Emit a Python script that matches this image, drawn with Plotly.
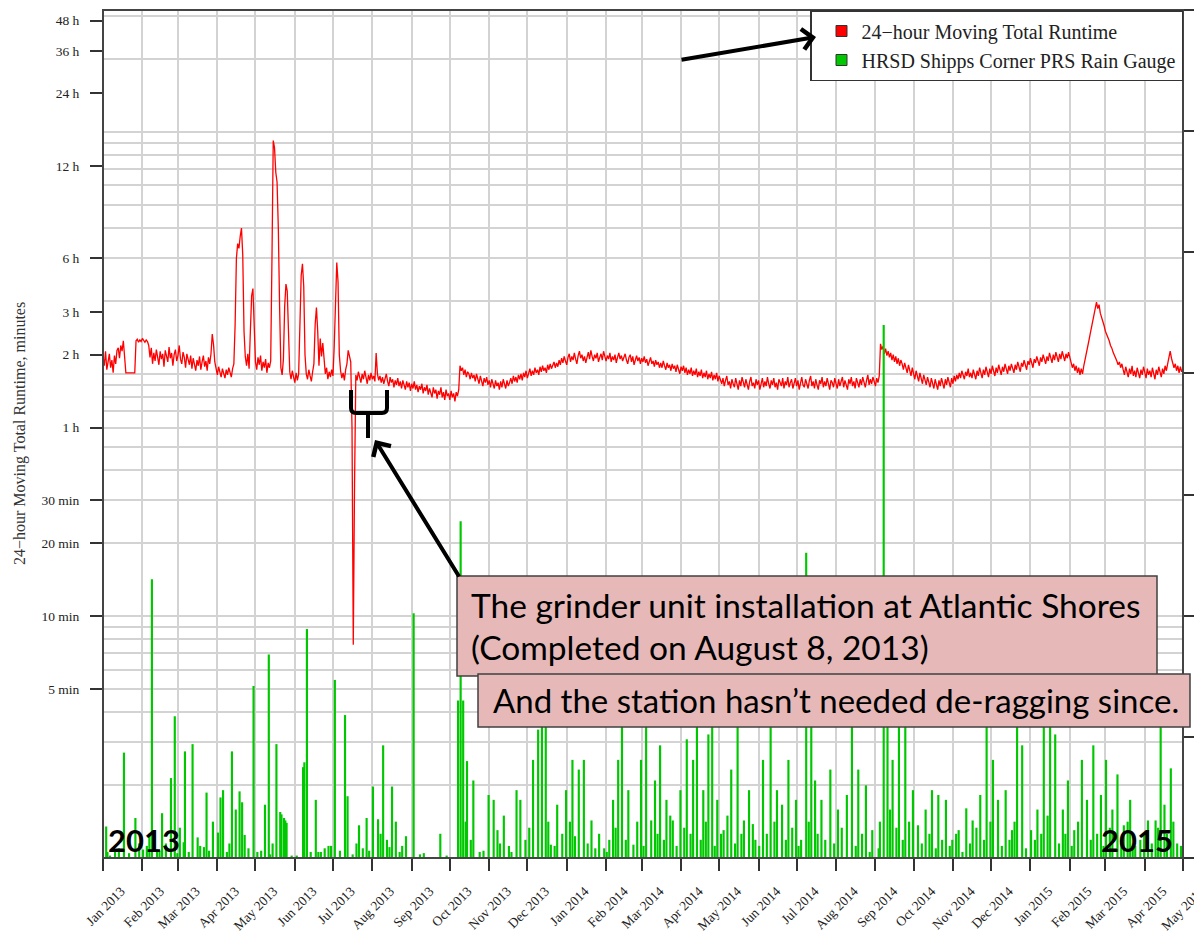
import pandas as pd
import plotly.graph_objects as go

# ---------------- data ----------------
START = "2013-01-01"

# 24-hour moving total runtime (minutes), one value per day.
# part A: days 0..18, part B: days 25..850 (no data between)
RUN_A_START = 0
RUN_B_START = 25
runtime_min_a = [118, 108, 124, 104, 112, 121, 106, 114, 101, 119, 110, 125, 128, 116, 131, 124, 137, 112, 101]
runtime_min_b = [
    # 25-36
    101, 137, 139, 135, 138, 136, 140, 137, 135, 138, 136, 131,
    # 37-85
    117, 128, 110, 122, 113, 126, 118, 109, 124, 115, 121, 107, 125, 119, 112, 129, 116, 122, 108, 120,
    126, 113, 119, 131, 115, 110, 123, 117, 106, 121, 114, 109, 119, 105, 116, 110, 103, 114, 108, 118,
    104, 112, 119, 107, 113, 103, 117, 110, 121,
    # 86-88
    146, 132, 112,
    # 89-103
    104, 99, 107, 101, 97, 105, 100, 96, 104, 99, 106, 101, 97, 105, 110,
    # 104-111 (April spike)
    160, 300, 345, 330, 370, 400, 310, 150,
    # 112-132
    118, 108, 121, 105, 150, 210, 225, 150, 112, 104, 117, 109, 119, 103, 112, 106, 115, 101, 111, 106, 113,
    # 133-139 (May spike)
    300, 920, 860, 680, 620, 400, 190,
    # 140-154
    106, 99, 115, 190, 235, 220, 150, 102, 95, 103, 97, 92, 101, 94, 100,
    # 155-158
    170, 255, 285, 230,
    # 159-166
    120, 100, 95, 104, 98, 93, 102, 110,
    # 167-169
    160, 188, 150,
    # 170-181
    108, 140, 118, 134, 112, 100, 106, 95, 102, 97, 104, 98,
    # 182-185
    130, 210, 288, 240,
    # 186-195
    120, 103, 96, 101, 94, 104, 110, 125, 118, 112,
    # 196-198 (July dip)
    60, 7.6, 35,
    # 199-280
    99, 94, 102, 97, 92, 100, 95, 103, 96, 91, 99, 94, 101, 95, 98, 93, 122, 100, 94, 98,
    92, 97, 91, 96, 100, 93, 89, 97, 92, 95, 88, 94, 90, 96, 89, 93, 87, 94, 90, 86,
    93, 88, 92, 85, 91, 87, 93, 86, 90, 84, 89, 86, 91, 83, 88, 85, 90, 82, 87, 84,
    80, 88, 83, 86, 79, 85, 82, 88, 80, 84, 78, 86, 81, 83, 78, 85, 80, 83, 77, 84,
    81, 86,
    # 281-320
    108, 103, 106, 99, 104, 97, 102, 100, 95, 101, 96, 99, 93, 100, 95, 91, 98, 94, 89, 96,
    92, 97, 90, 94, 88, 95, 91, 87, 94, 89, 92, 86, 93, 88, 95, 90, 87, 94, 89, 92,
    # 321-360
    96, 91, 98, 93, 97, 92, 99, 95, 100, 94, 101, 97, 103, 96, 100, 105, 98, 103, 99, 106,
    101, 104, 99, 107, 102, 108, 103, 106, 101, 109, 104, 110, 105, 108, 112, 106, 111, 107, 114, 109,
    # 361-438
    116, 111, 118, 113, 109, 117, 121, 112, 118, 114, 122, 115, 110, 119, 124, 116, 120, 113, 118, 111,
    117, 123, 115, 125, 118, 113, 120, 116, 122, 112, 117, 121, 114, 124, 118, 113, 119, 115, 122, 112,
    118, 114, 120, 111, 117, 122, 115, 119, 113, 118, 121, 114, 110, 117, 120, 112, 118, 109, 115, 119,
    113, 117, 110, 116, 112, 118, 111, 115, 108, 114, 117, 110, 113, 107, 114, 109, 112, 106,
    # 439-486
    111, 106, 113, 108, 104, 111, 106, 109, 103, 110, 105, 108, 102, 109, 104, 100, 107, 103, 108, 101,
    106, 99, 104, 100, 106, 98, 103, 99, 105, 97, 102, 98, 104, 96, 101, 97, 103, 95, 100, 96,
    102, 94, 99, 95, 101, 93, 98, 94,
    # 487-611
    91, 96, 89, 94, 98, 90, 93, 87, 95, 91, 88, 96, 92, 86, 94, 89, 97, 91, 88, 95,
    90, 86, 93, 97, 89, 92, 87, 95, 90, 94, 86, 91, 96, 88, 93, 89, 97, 91, 87, 94,
    90, 96, 88, 92, 86, 95, 91, 89, 96, 87, 93, 90, 97, 88, 92, 95, 87, 91, 96, 89,
    94, 86, 92, 97, 90, 88, 95, 91, 87, 94, 98, 89, 93, 87, 95, 90, 86, 94, 91, 97,
    88, 93, 89, 96, 90, 86, 94, 92, 88, 96, 91, 87, 95, 89, 93, 97, 88, 94, 90, 86,
    95, 91, 97, 89, 93, 87, 96, 92, 88, 95, 90, 97, 92, 88, 94, 99, 90, 95, 91, 97,
    93, 89, 96, 92, 98,
    # 612-673 (Sep 2014 jump)
    133, 126, 130, 121, 127, 119, 124, 117, 122, 114, 120, 112, 118, 110, 116, 108, 114, 110, 104, 111,
    106, 101, 109, 103, 98, 106, 100, 95, 103, 97, 93, 101, 96, 91, 99, 94, 90, 97, 92, 88,
    96, 91, 87, 95, 90, 86, 94, 89, 96, 91, 87, 95, 90, 97, 92, 88, 96, 91, 98, 93,
    99, 95,
    # 674-713
    101, 96, 103, 99, 95, 102, 98, 105, 97, 101, 96, 104, 99, 95, 103, 98, 106, 100, 96, 104,
    99, 107, 101, 97, 105, 100, 108, 102, 98, 106, 101, 109, 103, 99, 107, 102, 110, 104, 100, 108,
    # 714-764
    103, 110, 105, 101, 109, 104, 112, 106, 102, 111, 107, 114, 108, 104, 113, 109, 116, 110, 106, 115,
    111, 118, 112, 108, 117, 112, 120, 114, 110, 118, 113, 122, 115, 111, 120, 114, 123, 116, 112, 121,
    115, 124, 117, 113, 121, 116, 123, 117, 112, 106, 110,
    # 765-774
    103, 108, 101, 106, 99, 105, 100, 108, 114, 120,
    # 775-801 (Feb 2015 bump)
    128, 137, 146, 156, 166, 178, 190, 198, 186, 193, 178, 172, 163, 158, 150, 146, 140, 137, 131, 128,
    123, 120, 116, 113, 109, 112, 106,
    # 802-850
    110, 104, 99, 107, 102, 97, 105, 100, 108, 98, 103, 97, 106, 101, 96, 104, 99, 107, 100, 96,
    105, 99, 103, 97, 106, 100, 95, 104, 99, 107, 101, 97, 105, 100, 108, 103, 110, 118, 124, 116,
    112, 106, 110, 103, 108, 101, 107, 102, 105,
]

# HRSD Shipps Corner PRS rain gauge (right axis): day offset, value
rain_day = [
    2, 5, 9, 16, 25, 28, 31, 38, 42, 46, 53, 56, 63, 64, 70, 74, 76, 81, 83, 90,
    92, 94, 101, 107, 109, 111, 118, 121, 127, 130, 131, 136, 139, 140, 142, 143, 144, 152, 157, 158,
    160, 167, 169, 171, 177, 179, 182, 190, 192, 196, 201, 204, 207, 212, 216, 220, 223, 227, 230, 235,
    244, 252, 265, 279, 281, 283, 286, 291, 296, 303, 307, 310, 315, 319, 325, 328, 332, 338, 342, 345,
    348, 352, 357, 364, 369, 374, 378, 384, 390, 394, 398, 401, 405, 408, 413, 417, 423, 427, 431, 434,
    438, 443, 448, 454, 459, 464, 467, 472, 476, 479, 483, 488, 494, 499, 504, 508, 513, 519, 525, 530,
    534, 539, 545, 549, 553, 557, 560, 565, 572, 578, 585, 589, 594, 600, 605, 610, 614, 617, 621, 626,
    631, 637, 641, 647, 652, 657, 663, 668, 673, 679, 684, 690, 695, 700, 704, 710, 715, 719, 723, 730,
    735, 740, 745, 749, 755, 759, 764, 770, 774, 779, 785, 789, 794, 798, 803, 808, 812, 816, 822, 828,
    832, 835, 840, 845,
    3, 12, 20, 34, 36, 44, 49, 58, 60, 67, 79, 86, 97, 99, 104, 114, 124, 133, 148, 163,
    174, 186, 199, 209, 218, 225, 233, 238, 249, 270, 285, 289, 299, 312, 321, 335, 350, 355, 361, 367,
    371, 381, 387, 396, 403, 411, 420, 425, 436, 441, 446, 451, 457, 462, 470, 474, 481, 486, 491, 497,
    502, 511, 516, 522, 528, 537, 542, 547, 555, 562, 568, 575, 581, 592, 597, 603, 611, 619, 624, 629,
    634, 644, 650, 655, 660, 666, 671, 676, 682, 687, 693, 698, 707, 713, 717, 726, 733, 738, 743, 752,
    757, 762, 767, 777, 782, 787, 792, 801, 806, 810, 819, 825, 830, 837, 842, 848,
]
rain_val = [
    0.26, 0.02, 0.05, 0.87, 0.33, 0.12, 0.07, 2.30, 0.07, 0.37, 0.66, 1.17, 0.13, 0.88, 0.94, 0.17, 0.10, 0.54, 0.06, 0.21,
    0.50, 0.56, 0.88, 0.55, 0.46, 0.19, 1.42, 0.05, 0.44, 1.68, 0.03, 0.94, 0.38, 0.36, 0.33, 0.31, 0.29, 0.02, 0.75, 0.79,
    1.89, 0.48, 0.05, 0.05, 0.10, 0.10, 1.47, 1.18, 0.51, 0.03, 0.27, 0.08, 0.33, 0.59, 0.32, 0.93, 0.15, 0.59, 0.30, 0.10,
    2.02, 0.04, 0.20, 1.30, 2.78, 1.30, 0.80, 0.64, 0.05, 0.52, 0.48, 0.23, 0.35, 0.10, 0.56, 0.48, 0.15, 0.81, 1.06, 1.30,
    1.14, 0.11, 0.44, 0.56, 0.81, 0.73, 0.81, 0.31, 0.20, 0.08, 0.15, 0.48, 0.81, 1.30, 0.56, 0.11, 0.81, 1.30, 0.31, 0.64,
    0.93, 0.48, 0.31, 0.56, 0.98, 0.81, 1.30, 0.56, 1.02, 1.30, 0.48, 0.23, 0.73, 1.30, 0.31, 0.56, 0.15, 0.81, 1.30, 0.56,
    0.44, 0.81, 0.48, 0.15, 2.52, 1.30, 0.64, 0.48, 0.73, 0.40, 0.52, 1.14, 0.73, 0.60, 0.23, 0.08, 4.40, 1.30, 0.81, 1.14,
    1.30, 0.56, 0.27, 0.40, 0.56, 0.52, 0.48, 0.15, 0.23, 0.41, 0.31, 0.52, 1.30, 0.81, 0.48, 0.56, 0.23, 1.14, 0.93, 0.23,
    0.40, 1.10, 1.10, 1.02, 0.40, 0.64, 0.23, 0.81, 0.48, 0.93, 0.52, 0.81, 0.40, 0.69, 0.27, 0.48, 0.10, 0.15, 0.31, 0.31,
    1.30, 0.44, 0.74, 0.12,
    0.05, 0.08, 0.04, 0.10, 0.20, 0.06, 0.12, 0.04, 0.25, 0.05, 0.09, 0.30, 0.05, 0.12, 0.40, 0.08, 0.06, 0.12, 0.02, 0.05,
    0.08, 0.06, 0.12, 0.06, 0.20, 0.09, 0.05, 0.18, 0.03, 0.02, 0.30, 0.15, 0.06, 0.12, 0.05, 0.25, 0.30, 0.10, 0.20, 0.30,
    0.18, 0.12, 0.08, 0.05, 0.25, 0.15, 0.30, 0.10, 0.20, 0.15, 0.35, 0.10, 0.25, 0.20, 0.15, 0.30, 0.10, 0.20, 0.35, 0.12,
    0.20, 0.28, 0.10, 0.20, 0.30, 0.15, 0.25, 0.10, 0.30, 0.20, 0.15, 0.12, 0.25, 0.10, 0.20, 0.05, 0.30, 0.40, 0.25, 0.15,
    0.30, 0.12, 0.20, 0.08, 0.15, 0.10, 0.20, 0.05, 0.12, 0.25, 0.15, 0.30, 0.10, 0.15, 0.30, 0.08, 0.15, 0.20, 0.35, 0.12,
    0.20, 0.10, 0.30, 0.15, 0.20, 0.10, 0.25, 0.15, 0.30, 0.10, 0.20, 0.12, 0.25, 0.20, 0.30, 0.10,
]

month_ticks = pd.date_range("2013-01-01", "2015-05-01", freq="MS")
month_labels = [d.strftime("%b %Y") for d in month_ticks]

y_tick_vals = [5, 10, 20, 30, 60, 120, 180, 300, 720, 1440, 2160, 2880]
y_tick_text = ["5 min", "10 min", "20 min", "30 min", "1 h", "2 h", "3 h", "6 h",
               "12 h", "24 h", "36 h", "48 h"]
grid_vals = [m * 10 ** k for k in range(4) for m in range(1, 10) if m * 10 ** k <= 3000]
y2_ticks = [0, 1, 2, 3, 4, 5, 6, 7]

series_names = ["24\u2212hour Moving Total Runtime", "HRSD Shipps Corner PRS Rain Gauge"]

# ---------------- geometry (layout only) ----------------
OFF = 8                      # page margin of the browser
W, H = 1202 - OFF, 935 - OFF
L, R, T, B = 103, 1183, 10, 858   # plot area in screen pixels


def px(x):
    return (x - L) / (R - L)


def py(y):
    return (B - y) / (B - T)


start = pd.Timestamp(START)
run_days = list(range(RUN_A_START, RUN_A_START + len(runtime_min_a))) + \
    list(range(RUN_B_START, RUN_B_START + len(runtime_min_b)))
run_vals = runtime_min_a + runtime_min_b
run_dates = start + pd.to_timedelta(run_days, unit="D")
rain_dates = start + pd.to_timedelta(rain_day, unit="D") + pd.Timedelta(hours=12)

SERIF = "Liberation Serif"
SANS = "Lato"

fig = go.Figure()
fig.add_trace(go.Scatter(x=run_dates, y=run_vals, mode="lines",
                         line=dict(color="#FF0000", width=1.3), showlegend=False,
                         name=series_names[0]))
fig.add_trace(go.Bar(x=rain_dates, y=rain_val, yaxis="y2",
                     marker=dict(color="#00C800", line=dict(width=0)),
                     width=1.7 * 86400000, showlegend=False, name=series_names[1]))
fig.add_trace(go.Scatter(x=[None], y=[None], mode="markers", name=series_names[0],
                         marker=dict(symbol="square", size=11, color="#FF0000", line=dict(color="#333", width=1))))
fig.add_trace(go.Scatter(x=[None], y=[None], mode="markers", name=series_names[1],
                         marker=dict(symbol="square", size=11, color="#00C800", line=dict(color="#333", width=1))))

fig.update_layout(
    width=W, height=H,
    margin=dict(l=L - OFF, r=W - (R - OFF), t=T - OFF, b=H - (B - OFF), autoexpand=False),
    paper_bgcolor="white", plot_bgcolor="white",
    barmode="overlay",
    showlegend=True,
    legend=dict(x=1, y=1, xanchor="right", yanchor="top", bgcolor="white",
                bordercolor="#333", borderwidth=1.5, indentation=10,
                font=dict(family=SERIF, size=20, color="#222"), traceorder="normal"),
    xaxis=dict(type="date", range=["2013-01-01", "2015-05-01 02:00"],
               tickmode="array", tickvals=month_ticks, ticktext=month_labels,
               tickangle=-45, ticks="outside", ticklen=12, tickwidth=2, tickcolor="#333",
               tickfont=dict(family=SERIF, size=13.5, color="#222"),
               ticklabeloverflow="allow",
               showgrid=True, gridcolor="#D3D3D3", gridwidth=1.5,
               zeroline=False, showline=False, ticklabelshift=18, ticklabelstandoff=7),
    yaxis=dict(type="log", range=[0, 3.503],
               tickmode="array", tickvals=y_tick_vals, ticktext=y_tick_text,
               ticks="outside", ticklen=12, tickwidth=2, tickcolor="#333",
               tickfont=dict(family=SERIF, size=13.5, color="#222"),
               ticklabelstandoff=8,
               showgrid=False, zeroline=False, showline=False,
               minor=dict(tickmode="array", tickvals=[v * 1.0001 for v in grid_vals],
                          showgrid=True, gridcolor="#D3D3D3", gridwidth=1.5, ticks="")),
    yaxis2=dict(overlaying="y", side="right", range=[0, 7],
                tickmode="array", tickvals=y2_ticks, showticklabels=False,
                ticks="outside", ticklen=12, tickwidth=2, tickcolor="#333",
                showgrid=False, zeroline=False, showline=False),
)

shapes = [
    dict(type="rect", xref="paper", yref="paper", x0=0, x1=1, y0=0, y1=1,
         line=dict(color="#444", width=2), layer="above"),
    dict(type="path", xref="paper", yref="paper", layer="above",
         path=(f"M{px(351)},{py(390)} L{px(351)},{py(408)} Q{px(351)},{py(413)} {px(356)},{py(413)} "
               f"L{px(382)},{py(413)} Q{px(387)},{py(413)} {px(387)},{py(408)} L{px(387)},{py(390)} "
               f"M{px(368)},{py(413)} L{px(368)},{py(438)}"),
         line=dict(color="black", width=4)),
    dict(type="rect", xref="paper", yref="paper", x0=px(457), x1=px(1157), y0=py(676), y1=py(576),
         fillcolor="#E6B9B8", line=dict(color="#404040", width=1.5), layer="above"),
    dict(type="rect", xref="paper", yref="paper", x0=px(478), x1=px(1190), y0=py(727), y1=py(674),
         fillcolor="#E6B9B8", line=dict(color="#404040", width=1.5), layer="above"),
]

annotations = [
    dict(text="24\u2212hour Moving Total Runtime, minutes", xref="paper", yref="paper",
         x=px(20), y=py(434), xanchor="center", yanchor="middle", textangle=-90, showarrow=False,
         font=dict(family=SERIF, size=16, color="#333")),
    dict(text="The grinder unit installation at Atlantic Shores", xref="paper", yref="paper",
         x=px(469), y=py(605), xanchor="left", yanchor="middle", showarrow=False,
         font=dict(family=SANS, size=33.5, color="black")),
    dict(text="(Completed on August 8, 2013)", xref="paper", yref="paper",
         x=px(469), y=py(647), xanchor="left", yanchor="middle", showarrow=False,
         font=dict(family=SANS, size=33.5, color="black")),
    dict(text="And the station hasn\u2019t needed de-ragging since.", xref="paper", yref="paper",
         x=px(491), y=py(700), xanchor="left", yanchor="middle", showarrow=False,
         font=dict(family=SANS, size=33, color="black")),
    dict(text="<b>2013</b>", xref="paper", yref="paper", x=px(106), y=py(840),
         xanchor="left", yanchor="middle", showarrow=False,
         font=dict(family=SANS, size=31, color="black")),
    dict(text="<b>2015</b>", xref="paper", yref="paper", x=px(1099), y=py(840),
         xanchor="left", yanchor="middle", showarrow=False,
         font=dict(family=SANS, size=31, color="black")),
    dict(text="", xref="paper", yref="paper", x=px(816), y=py(37), ax=-136, ay=23,
         showarrow=True, arrowhead=4, arrowsize=1, arrowwidth=4, arrowcolor="black", standoff=0),
    dict(text="", xref="paper", yref="paper", x=px(375), y=py(440), ax=85, ay=138,
         showarrow=True, arrowhead=4, arrowsize=1, arrowwidth=4, arrowcolor="black", standoff=0),
]

fig.update_layout(shapes=shapes, annotations=annotations)

fig.write_html("out.html")
